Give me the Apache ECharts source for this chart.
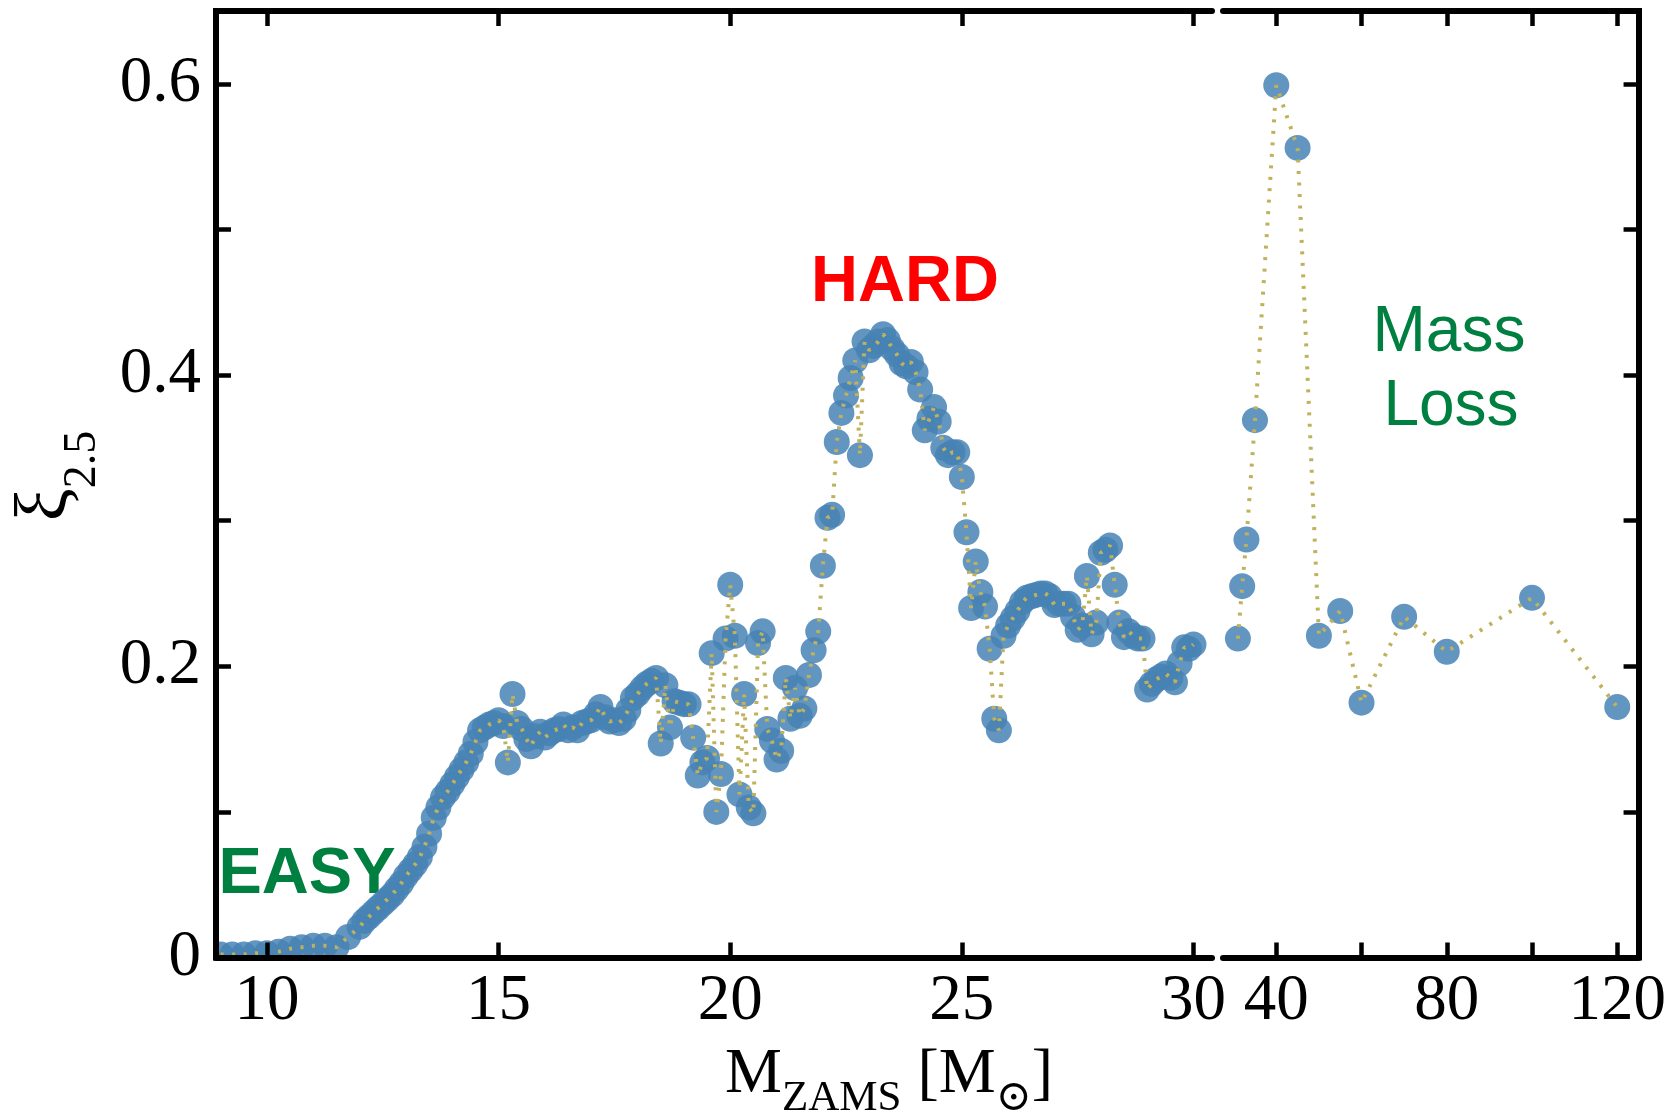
<!DOCTYPE html>
<html><head><meta charset="utf-8">
<script src="https://cdn.jsdelivr.net/npm/echarts@6/dist/echarts.min.js"></script>
<style>html,body{margin:0;padding:0;background:#fff}#c{width:1669px;height:1117px}</style>
</head><body><div id="c"></div>
<script>
// ZAMS mass (left panel, 9-30 Msun)
const leftMass = [
 9.0, 9.25, 9.5, 9.75, 10.0, 10.25, 10.5, 10.75, 11.0, 11.25, 11.5, 11.75, 12.0,
 12.1,12.2,12.3,12.4,12.5,12.6,12.7,12.8,12.9,13.0,
 13.1,13.2,13.3,13.4,13.5,13.6,13.7,13.8,13.9,14.0,
 14.1,14.2,14.3,14.4,14.5,14.6,14.7,14.8,14.9,15.0,
 15.1,15.2,15.3,15.4,15.5,15.6,15.7,15.8,15.9,16.0,
 16.1,16.2,16.3,16.4,16.5,16.6,16.7,16.8,16.9,17.0,
 17.1,17.2,17.3,17.4,17.5,17.6,17.7,17.8,17.9,18.0,
 18.1,18.2,18.3,18.4,18.5,18.6,18.7,18.8,18.9,19.0,
 19.1,19.2,19.3,19.4,19.5,19.6,19.7,19.8,19.9,20.0,
 20.1,20.2,20.3,20.4,20.5,20.6,20.7,20.8,20.9,21.0,
 21.1,21.2,21.3,21.4,21.5,21.6,21.7,21.8,21.9,22.0,
 22.1,22.2,22.3,22.4,22.5,22.6,22.7,22.8,22.9,23.0,
 23.1,23.2,23.3,23.4,23.5,23.6,23.7,23.8,23.9,24.0,
 24.1,24.2,24.3,24.4,24.5,24.6,24.7,24.8,24.9,25.0,
 25.1,25.2,25.3,25.4,25.5,25.6,25.7,25.8,25.9,26.0,
 26.1,26.2,26.3,26.4,26.5,26.6,26.7,26.8,26.9,27.0,
 27.1,27.2,27.3,27.4,27.5,27.6,27.7,27.8,27.9,28.0,
 28.1,28.2,28.3,28.4,28.5,28.6,28.7,28.8,28.9,29.0,
 29.1,29.2,29.3,29.4,29.5,29.6,29.7,29.8,29.9,30.0
];
// compactness xi_2.5 (left panel)
const leftXi = [
 0.002,0.002,0.002,0.003,0.003,0.004,0.006,0.007,0.008,0.008,0.007,0.014,0.021,
 0.025,0.028,0.031,0.034,0.037,0.040,0.043,0.047,0.051,0.056,
 0.060,0.064,0.069,0.076,0.085,0.096,0.103,0.110,0.114,0.119,
 0.124,0.129,0.134,0.140,0.148,0.156,0.158,0.160,0.161,0.163,
 0.159,0.134,0.181,0.161,0.157,0.150,0.145,0.152,0.155,0.151,
 0.154,0.156,0.157,0.160,0.156,0.158,0.156,0.161,0.162,0.163,
 0.167,0.172,0.165,0.162,0.163,0.161,0.164,0.170,0.178,0.181,
 0.185,0.188,0.190,0.192,0.147,0.187,0.158,0.176,0.175,0.174,
 0.174,0.151,0.125,0.134,0.137,0.209,0.100,0.126,0.219,0.256,
 0.221,0.112,0.181,0.103,0.099,0.216,0.224,0.157,0.149,0.136,
 0.142,0.192,0.164,0.185,0.166,0.171,0.194,0.211,0.224,0.269,
 0.302,0.304,0.354,0.374,0.386,0.398,0.410,0.345,0.423,0.417,
 0.420,0.423,0.428,0.424,0.418,0.414,0.408,0.406,0.409,0.402,
 0.390,0.362,0.370,0.378,0.368,0.350,0.345,0.347,0.347,0.330,
 0.292,0.240,0.272,0.251,0.241,0.212,0.164,0.156,0.221,0.228,
 0.233,0.238,0.244,0.247,0.248,0.249,0.250,0.250,0.248,0.242,
 0.243,0.243,0.243,0.234,0.225,0.228,0.262,0.222,0.230,0.278,
 0.280,0.283,0.256,0.230,0.220,0.224,0.221,0.219,0.219,0.184,
 0.188,0.191,0.193,0.195,0.192,0.189,0.202,0.213,0.212,0.215
];
// right panel (high masses)
const rightMass = [31, 32, 33, 35, 40, 45, 50, 55, 60, 70, 80, 100, 120];
const rightXi = [0.219, 0.255, 0.287, 0.369, 0.599, 0.556, 0.221, 0.238, 0.175, 0.234, 0.210, 0.247, 0.172];

const yTicks = [0, 0.1, 0.2, 0.3, 0.4, 0.5, 0.6];
const yLabels = [0, 0.2, 0.4, 0.6];
const leftXTicks = [10, 15, 20, 25, 30];
const leftXLabels = [10, 15, 20, 25, 30];
const rightXTicks = [40, 60, 80, 100, 120];
const rightXLabels = [40, 80, 120];

const SERIF = '"Liberation Serif", "DejaVu Serif", serif';
const SANS = '"Liberation Sans", Arial, sans-serif';
const GREEN = '#008040';

function xAxisDef(gridIndex, min, max, ticks, labels, position, showLabels) {
  return {
    type: 'value', gridIndex, min, max, position, z: 10,
    axisLine: { show: true, onZero: false, lineStyle: { color: '#000', width: 6 } },
    axisTick: { show: true, inside: true, length: 15, customValues: ticks, lineStyle: { color: '#000', width: 4.5 } },
    axisLabel: { show: showLabels, customValues: labels, margin: 12, fontFamily: SERIF, fontSize: 65, color: '#000',
      formatter: v => String(v) },
    splitLine: { show: false }
  };
}
function yAxisDef(gridIndex, position, showLabels) {
  return {
    type: 'value', gridIndex, min: 0, max: 0.65, position, z: 10,
    axisLine: { show: true, onZero: false, lineStyle: { color: '#000', width: 6, cap: 'square' } },
    axisTick: { show: true, inside: true, length: 15, customValues: yTicks, lineStyle: { color: '#000', width: 4.5 } },
    axisLabel: { show: showLabels, customValues: yLabels, margin: 15, fontFamily: SERIF, fontSize: 65, color: '#000',
      formatter: v => (v === 0 ? '0' : v.toFixed(1)) },
    splitLine: { show: false }
  };
}

const leftData = leftMass.map((m, i) => [m, leftXi[i]]);
const rightData = rightMass.map((m, i) => [m, rightXi[i]]);

const markerStyle = { color: '#4682b4', opacity: 0.85 };
const lineStyle = { color: '#c0b25c', width: 4, type: [3, 8.5] };

const chart = echarts.init(document.getElementById('c'), null, { renderer: 'canvas' });
chart.setOption({
  animation: false,
  backgroundColor: '#fff',
  grid: [
    { left: 216, top: 11, width: 996, height: 946.5 },
    { left: 1223, top: 11, width: 418, height: 946.5 }
  ],
  xAxis: [
    xAxisDef(0, 8.9, 30.4, leftXTicks, leftXLabels, 'bottom', true),
    xAxisDef(0, 8.9, 30.4, leftXTicks, leftXLabels, 'top', false),
    xAxisDef(1, 27.5, 125, rightXTicks, rightXLabels, 'bottom', true),
    xAxisDef(1, 27.5, 125, rightXTicks, rightXLabels, 'top', false)
  ],
  yAxis: [
    yAxisDef(0, 'left', true),
    yAxisDef(1, 'right', false)
  ],
  series: [
    { type: 'scatter', xAxisIndex: 0, yAxisIndex: 0, data: leftData, symbolSize: 26, itemStyle: markerStyle, z: 2, silent: true },
    { type: 'line', xAxisIndex: 0, yAxisIndex: 0, data: leftData, symbol: 'none', showSymbol: false, lineStyle: lineStyle, z: 3, silent: true },
    { type: 'scatter', xAxisIndex: 2, yAxisIndex: 1, data: rightData, symbolSize: 26, itemStyle: markerStyle, z: 2, silent: true },
    { type: 'line', xAxisIndex: 2, yAxisIndex: 1, data: rightData, symbol: 'none', showSymbol: false, lineStyle: lineStyle, z: 3, silent: true }
  ],
  graphic: [
    // masks so markers do not spill outside the frame
    { type: 'rect', z: 4, silent: true, shape: { x: 196, y: 960.5, width: 520, height: 16 }, style: { fill: '#fff' } },
    { type: 'rect', z: 4, silent: true, shape: { x: 196, y: 880, width: 17, height: 96 }, style: { fill: '#fff' } },
    { type: 'text', z: 1, x: 307, y: 875, style: { text: 'EASY', fill: GREEN, font: 'bold 65px ' + SANS, align: 'center', verticalAlign: 'middle' } },
    { type: 'text', z: 1, x: 905, y: 283, style: { text: 'HARD', fill: '#ff0000', font: 'bold 65px ' + SANS, align: 'center', verticalAlign: 'middle' } },
    { type: 'text', z: 1, x: 1449, y: 333, style: { text: 'Mass', fill: GREEN, font: '64px ' + SANS, align: 'center', verticalAlign: 'middle' } },
    { type: 'text', z: 1, x: 1451, y: 407, style: { text: 'Loss', fill: GREEN, font: '64px ' + SANS, align: 'center', verticalAlign: 'middle' } },
    { type: 'text', z: 6, x: 889, y: 1043,
      style: {
        text: '{m|M}{s|ZAMS}{m| [M}{s|\u2299}{m|]}',
        align: 'center', verticalAlign: 'top',
        rich: {
          m: { fontFamily: SERIF, fontSize: 64, lineHeight: 64, verticalAlign: 'top', fill: '#000' },
          s: { fontFamily: SERIF, fontSize: 43, lineHeight: 43, verticalAlign: 'top', padding: [34, 0, 0, 0], fill: '#000' }
        }
      } },
    { type: 'text', z: 6, x: 10, y: 476, rotation: Math.PI / 2,
      style: {
        text: '{m|\u03BE}{s|2.5}',
        align: 'center', verticalAlign: 'top',
        rich: {
          m: { fontFamily: SERIF, fontSize: 74, lineHeight: 74, verticalAlign: 'top', fill: '#000' },
          s: { fontFamily: SERIF, fontSize: 46, lineHeight: 46, verticalAlign: 'top', padding: [50, 0, 0, 0], fill: '#000' }
        }
      } }
  ]
});
</script>
</body></html>
